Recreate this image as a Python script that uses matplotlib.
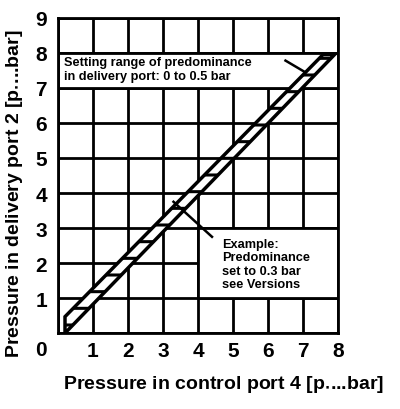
import matplotlib.pyplot as plt
from matplotlib.patches import Polygon, Rectangle

plt.rcParams['font.family'] = ['Liberation Sans', 'DejaVu Sans']
plt.rcParams['font.weight'] = 'bold'
plt.rcParams['hatch.linewidth'] = 2.2

# axis ticks
x_ticks = [1, 2, 3, 4, 5, 6, 7, 8]
y_ticks = [1, 2, 3, 4, 5, 6, 7, 8, 9]

# band of predominance (control pressure -> delivery pressure)
lower_x = [0.2, 7.9]
lower_y = [0.0, 7.95]
upper_x = [0.2, 7.57]
upper_y = [0.47, 7.95]

# text boxes (x0, y0, x1, y1) in data units
top_box = (0, 7, 8, 8)
example_box = (4, 1, 8, 3)

top_note = "Setting range of predominance\nin delivery port: 0 to 0.5 bar"
example_note = "Example:\nPredominance\nset to 0.3 bar\nsee Versions"

fig = plt.figure(figsize=(4, 4.1), dpi=100)
ax = fig.add_axes([0.145, 0.185, 0.70, 0.769])
ax.set_xlim(0, 8)
ax.set_ylim(0, 9)

for x in range(0, 9):
    ax.axvline(x, color='black', lw=2, zorder=1)
for y in range(0, 10):
    ax.axhline(y, color='black', lw=2, zorder=1)

for b in (top_box, example_box):
    ax.add_patch(Rectangle((b[0], b[1]), b[2] - b[0], b[3] - b[1],
                           facecolor='white', edgecolor='black', lw=2, zorder=2))

band = Polygon([(lower_x[0], lower_y[0]), (lower_x[1], lower_y[1]),
                (upper_x[1], upper_y[1]), (upper_x[0], upper_y[0])],
               closed=True, facecolor='white', edgecolor='black',
               hatch='-', lw=2.5, zorder=3)
ax.add_patch(band)

ax.plot([6.5, 7.06], [7.78, 7.45], color='black', lw=1.8, zorder=4)
ax.plot([3.3, 4.4], [3.75, 2.75], color='black', lw=1.8, zorder=4)

ax.text(0.17, 7.54, top_note, fontsize=9.2, fontweight='bold',
        va='center', ha='left', linespacing=1.25, zorder=5)
ax.text(4.7, 1.97, example_note, fontsize=9.2, fontweight='bold',
        va='center', ha='left', linespacing=1.15, zorder=5)

for s in ax.spines.values():
    s.set_linewidth(2)
    s.set_zorder(6)

ax.set_xticks(x_ticks)
ax.set_xticklabels([str(t) for t in x_ticks])
ax.set_yticks(y_ticks)
ax.set_yticklabels([str(t) for t in y_ticks])
ax.tick_params(length=0, labelsize=15, pad=6)
ax.tick_params(axis='y', pad=8)
for lab in ax.get_xticklabels() + ax.get_yticklabels():
    lab.set_fontweight('bold')
ax.text(-0.5, -0.46, "0", fontsize=15, fontweight='bold',
        ha='center', va='center', clip_on=False)

ax.set_xlabel(r"Pressure in control port 4 [p$_{\bullet}$...bar]",
              fontsize=14, fontweight='bold')
ax.xaxis.set_label_coords(0.59, -0.125)
ax.set_ylabel(r"Pressure in delivery port 2 [p$_{\bullet}$...bar]",
              fontsize=14, fontweight='bold')
ax.yaxis.set_label_coords(-0.118, 0.444)

fig.savefig('out.png', dpi=100)
